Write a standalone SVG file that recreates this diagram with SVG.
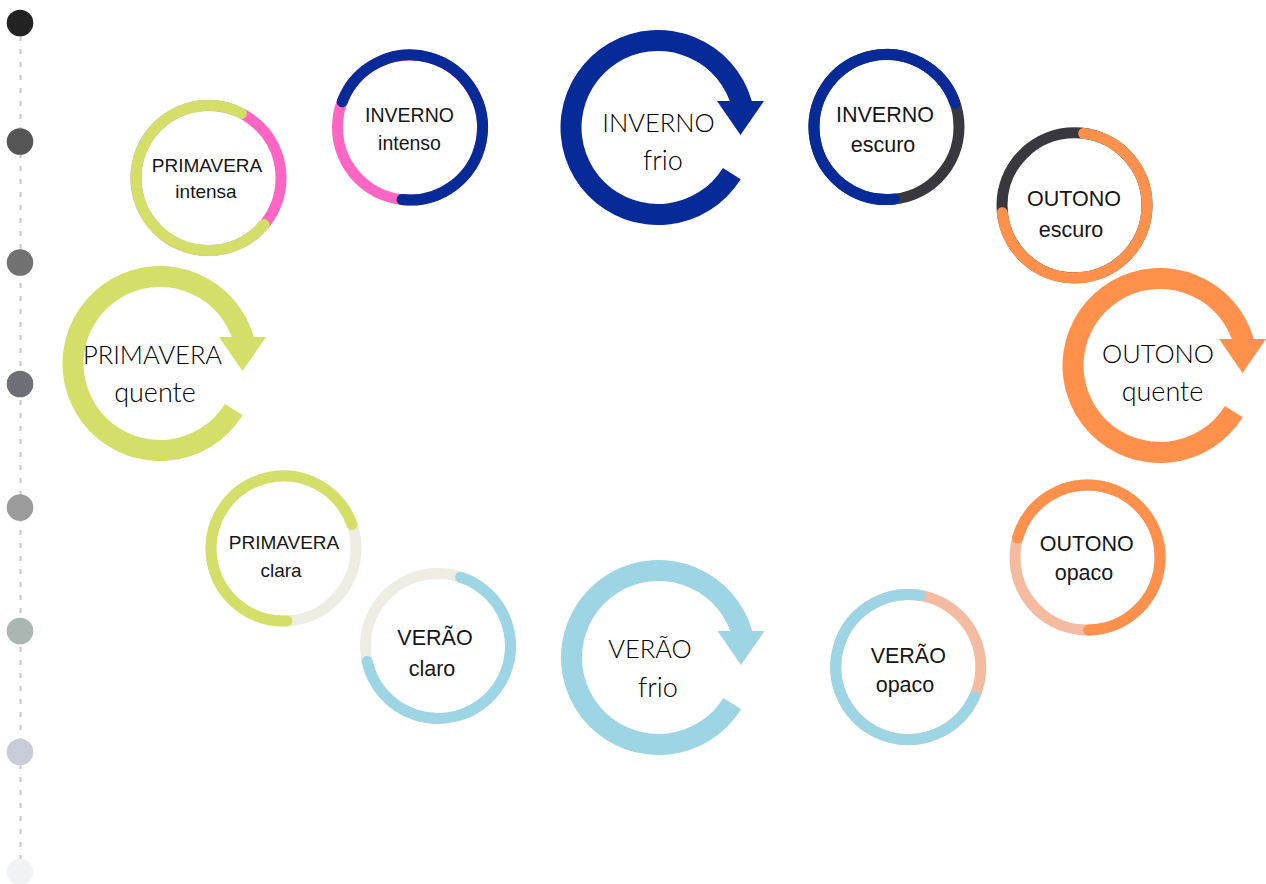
<svg xmlns="http://www.w3.org/2000/svg" xmlns:xlink="http://www.w3.org/1999/xlink" width="1266" height="884" viewBox="0 0 1266 884">
  <defs>
    <!-- circular arrow: thick band open at lower right, ending in a triangular head -->
    <path id="cycle" d="M82.7 51.7 A97.5 97.5 0 1 1 93.8 -26.5 L71.8 -26.5 A76.5 76.5 0 1 0 64.9 40.5 Z M59 -26.5 L106 -26.5 L82.5 7.5 Z"/>
  </defs>
  <style>
    .ring { fill: none; stroke-width: 11; }
    .arc { fill: none; stroke-width: 11; stroke-linecap: round; }
    .small { font-family: "Liberation Sans", Arial, sans-serif; fill: #161616; text-anchor: middle; }
    .big { font-family: Lato, "Open Sans", sans-serif; font-weight: 300; font-size: 25.5px; fill: #000000; text-anchor: middle; }
    .big2 { font-size: 27px; }
    .blue { stroke: #062a98; }
    .pink { stroke: #ff66c4; }
    .lime { stroke: #d4df69; }
    .dark { stroke: #38383e; }
    .orange { stroke: #ff914d; }
    .peach { stroke: #f4bba1; }
    .sky { stroke: #9dd5e5; }
    .cream { stroke: #eeece3; }
  </style>
  <rect width="1266" height="884" fill="#ffffff"/>

  <!-- timeline on the left -->
  <g id="timeline">
    <line x1="20.5" y1="23" x2="20.5" y2="872" stroke="#c9c8c0" stroke-width="2" stroke-dasharray="5 8"/>
    <circle cx="20" cy="23" r="13.3" fill="#222222"/>
    <circle cx="20" cy="141.5" r="13.3" fill="#555555"/>
    <circle cx="20" cy="262.5" r="13.3" fill="#717171"/>
    <circle cx="20" cy="384" r="13.3" fill="#6e6e76"/>
    <circle cx="20" cy="507.5" r="13.3" fill="#9b9b9b"/>
    <circle cx="20" cy="631" r="13.3" fill="#a9b6b1"/>
    <circle cx="20" cy="752" r="13.3" fill="#c8cdd9"/>
    <circle cx="20" cy="872" r="13.3" fill="#f1f2f4"/>
  </g>

  <!-- big circular arrows -->
  <g id="inverno-frio">
    <use xlink:href="#cycle" href="#cycle" transform="translate(658 127.5)" fill="#062a98"/>
    <text class="big" x="658.5" y="131.7">INVERNO</text>
    <text class="big big2" x="663" y="170">frio</text>
  </g>
  <g id="primavera-quente">
    <use xlink:href="#cycle" href="#cycle" transform="translate(160 363.5)" fill="#d4df69"/>
    <text class="big" x="152.5" y="364">PRIMAVERA</text>
    <text class="big big2" x="155" y="402">quente</text>
  </g>
  <g id="outono-quente">
    <use xlink:href="#cycle" href="#cycle" transform="translate(1160 365.5)" fill="#ff914d"/>
    <text class="big" x="1158" y="363">OUTONO</text>
    <text class="big big2" x="1162.5" y="401">quente</text>
  </g>
  <g id="verao-frio">
    <use xlink:href="#cycle" href="#cycle" transform="translate(658.5 657.5)" fill="#9dd5e5"/>
    <text class="big" x="650" y="658">VERÃO</text>
    <text class="big big2" x="658" y="697">frio</text>
  </g>

  <!-- two-tone rings -->
  <g id="primavera-intensa">
    <circle class="ring pink" cx="208.5" cy="178" r="72.5"/>
    <path class="arc lime" d="M264.04 224.6 A72.5 72.5 0 1 1 241.41 113.4"/>
    <text class="small" x="207" y="171.7" font-size="19">PRIMAVERA</text>
    <text class="small" x="206" y="198.3" font-size="19">intensa</text>
  </g>
  <g id="inverno-intenso">
    <circle class="ring pink" cx="410" cy="127.5" r="72.5"/>
    <path class="arc blue" d="M342.23 101.75 A72.5 72.5 0 1 1 402.04 199.56"/>
    <text class="small" x="409.5" y="121.7" font-size="19.5">INVERNO</text>
    <text class="small" x="409.5" y="150" font-size="19.5">intenso</text>
  </g>
  <g id="inverno-escuro">
    <circle class="ring dark" cx="886.5" cy="127" r="72.5"/>
    <path class="arc blue" d="M893.95 199.12 A72.5 72.5 0 1 1 954.93 103.04"/>
    <text class="small" x="885" y="121.7" font-size="21.5">INVERNO</text>
    <text class="small" x="883" y="151.7" font-size="21.5">escuro</text>
  </g>
  <g id="outono-escuro">
    <circle class="ring dark" cx="1074.5" cy="205.3" r="72.5"/>
    <path class="arc orange" d="M1083.71 133.39 A72.5 72.5 0 1 1 1002.38 212.75"/>
    <text class="small" x="1074" y="206" font-size="21.5">OUTONO</text>
    <text class="small" x="1071" y="236.7" font-size="21.5">escuro</text>
  </g>
  <g id="outono-opaco">
    <circle class="ring peach" cx="1087.5" cy="557.5" r="72.5"/>
    <path class="arc orange" d="M1017.67 538 A72.5 72.5 0 1 1 1088.77 629.99"/>
    <text class="small" x="1086.7" y="551" font-size="21.5">OUTONO</text>
    <text class="small" x="1084" y="580" font-size="21.5">opaco</text>
  </g>
  <g id="verao-opaco">
    <circle class="ring peach" cx="908.3" cy="667" r="72.5"/>
    <path class="arc sky" d="M974.38 696.84 A72.5 72.5 0 1 1 919.77 595.41"/>
    <text class="small" x="908.3" y="663.3" font-size="21.5">VERÃO</text>
    <text class="small" x="905" y="691.7" font-size="21.5">opaco</text>
  </g>
  <g id="primavera-clara">
    <circle class="ring cream" cx="283.5" cy="548.5" r="72.5"/>
    <path class="arc lime" d="M286.92 620.92 A72.5 72.5 0 1 1 351.93 524.54"/>
    <text class="small" x="284" y="549" font-size="19">PRIMAVERA</text>
    <text class="small" x="281" y="577" font-size="19">clara</text>
  </g>
  <g id="verao-claro">
    <circle class="ring cream" cx="438" cy="646" r="72.5"/>
    <path class="arc sky" d="M460.76 577.17 A72.5 72.5 0 1 1 367.17 661.44"/>
    <text class="small" x="435" y="645" font-size="21.5">VERÃO</text>
    <text class="small" x="432" y="676" font-size="21.5">claro</text>
  </g>

  <!-- no connectors are drawn between the stages -->
  <g id="connectors"/>
</svg>
